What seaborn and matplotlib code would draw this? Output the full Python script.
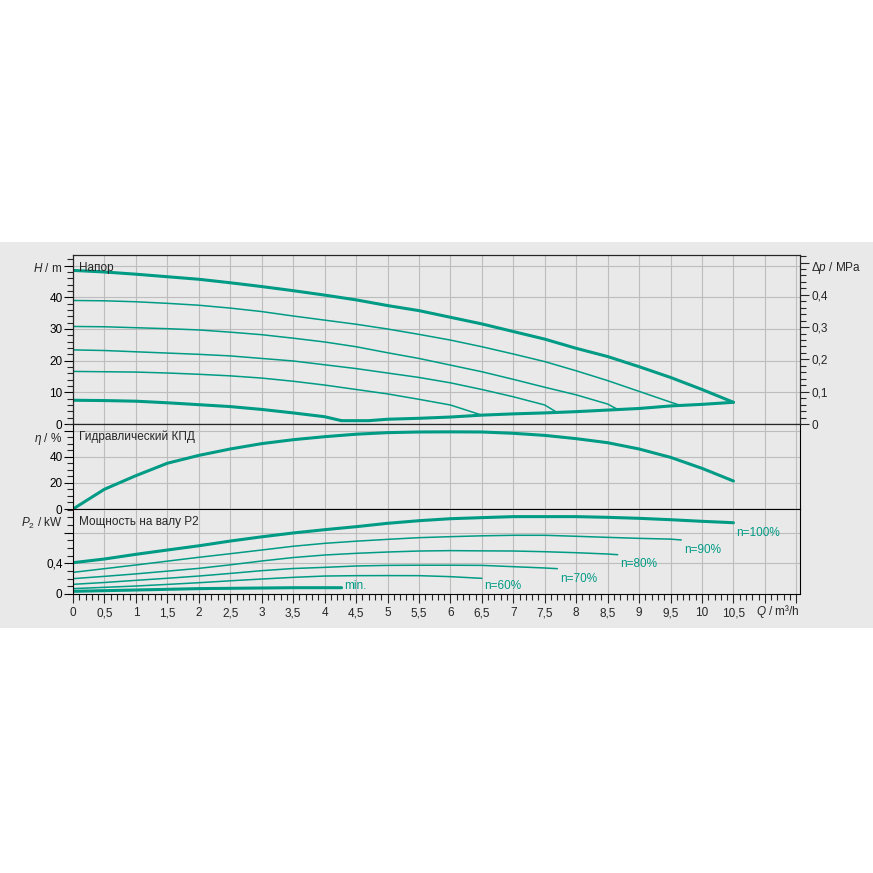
import matplotlib
matplotlib.use('Agg')
import matplotlib.pyplot as plt
from matplotlib.patches import Rectangle
from matplotlib.ticker import MultipleLocator, FixedLocator, FuncFormatter
import seaborn as sns

# ---- data (Q in m3/h) ----
q_100 = [0, 0.5, 1, 1.5, 2, 2.5, 3, 3.5, 4, 4.5, 5, 5.5, 6, 6.5, 7, 7.5, 8, 8.5, 9, 9.5, 10, 10.5]
h_100 = [48.5, 48.0, 47.3, 46.5, 45.7, 44.6, 43.4, 42.1, 40.7, 39.2, 37.4, 35.8, 33.7, 31.6, 29.2, 26.8,
         23.9, 21.3, 18.1, 14.7, 10.9, 6.85]
p_100 = [0.408, 0.456, 0.517, 0.573, 0.628, 0.69, 0.745, 0.795, 0.838, 0.877, 0.921, 0.955, 0.981, 0.995,
         1.008, 1.008, 1.008, 0.999, 0.986, 0.968, 0.947, 0.929]
eta_100 = [0, 15.1, 25.5, 35.0, 41.0, 45.9, 50.0, 53.0, 55.3, 57.2, 58.4, 58.9, 59.0, 58.9, 57.9, 56.3,
           53.8, 50.7, 45.9, 39.5, 31.1, 21.4]

q_90 = [0, 0.5, 1, 1.5, 2, 2.5, 3, 3.5, 4, 4.5, 5, 5.5, 6, 6.5, 7, 7.5, 8, 8.5, 9, 9.5, 9.67]
h_90 = [39.0, 38.9, 38.6, 38.1, 37.5, 36.6, 35.5, 34.1, 32.8, 31.5, 30.0, 28.3, 26.5, 24.4, 22.1, 19.7,
        16.8, 13.7, 10.3, 6.9, 5.8]
p_90 = [0.282, 0.33, 0.378, 0.428, 0.478, 0.525, 0.573, 0.622, 0.660, 0.688, 0.712, 0.734, 0.747, 0.758,
        0.765, 0.765, 0.752, 0.738, 0.725, 0.715, 0.704]

q_80 = [0, 0.5, 1, 1.5, 2, 2.5, 3, 3.5, 4, 4.5, 5, 5.5, 6, 6.5, 7, 7.5, 8, 8.5, 8.66]
h_80 = [30.8, 30.7, 30.4, 30.1, 29.7, 29.0, 28.2, 27.1, 25.9, 24.4, 22.5, 20.7, 18.6, 16.5, 14.1, 11.6,
        9.2, 6.3, 4.6]
p_80 = [0.2, 0.23, 0.262, 0.298, 0.334, 0.38, 0.43, 0.475, 0.508, 0.530, 0.547, 0.560, 0.565, 0.562,
        0.560, 0.551, 0.538, 0.521, 0.512]

q_70 = [0, 0.5, 1, 1.5, 2, 2.5, 3, 3.5, 4, 4.5, 5, 5.5, 6, 6.5, 7, 7.5, 7.7]
h_70 = [23.4, 23.2, 22.8, 22.4, 22.0, 21.5, 20.7, 19.9, 18.7, 17.5, 16.1, 14.7, 13.0, 10.9, 8.6, 6.0, 3.6]
p_70 = [0.126, 0.15, 0.178, 0.205, 0.234, 0.268, 0.304, 0.332, 0.347, 0.365, 0.373, 0.375, 0.375, 0.373,
        0.356, 0.339, 0.330]

q_60 = [0, 0.5, 1, 1.5, 2, 2.5, 3, 3.5, 4, 4.5, 5, 5.5, 6, 6.5]
h_60 = [16.6, 16.5, 16.4, 16.1, 15.7, 15.2, 14.5, 13.5, 12.3, 10.9, 9.5, 7.8, 6.0, 2.8]
p_60 = [0.07, 0.087, 0.104, 0.125, 0.147, 0.172, 0.195, 0.217, 0.234, 0.239, 0.240, 0.239, 0.226, 0.204]

q_min = [0, 0.5, 1, 1.5, 2, 2.5, 3, 3.5, 4, 4.27]
h_min = [7.5, 7.4, 7.2, 6.7, 6.1, 5.5, 4.6, 3.5, 2.3, 1.05]
q_min_p = [0, 1, 2, 3, 3.5, 4.27]
p_min = [0.035, 0.052, 0.07, 0.078, 0.082, 0.082]

# limit line connecting the ends of the speed curves
q_end = [4.27, 4.7, 5, 5.5, 6, 6.5, 7, 7.5, 8, 8.5, 9, 9.5, 10, 10.5]
h_end = [1.05, 1.05, 1.5, 1.8, 2.2, 2.8, 3.2, 3.5, 3.9, 4.4, 4.9, 5.7, 6.2, 6.85]

speed_labels = ['n=100%', 'n=90%', 'n=80%', 'n=70%', 'n=60%', 'min.']

x_ticks = [0, 0.5, 1, 1.5, 2, 2.5, 3, 3.5, 4, 4.5, 5, 5.5, 6, 6.5, 7, 7.5, 8, 8.5, 9, 9.5, 10, 10.5, 11, 11.5]
x_tick_labels = ['0', '0,5', '1', '1,5', '2', '2,5', '3', '3,5', '4', '4,5', '5', '5,5', '6', '6,5',
                 '7', '7,5', '8', '8,5', '9', '9,5', '10', '10,5', '', '']

# ---- style ----
sns.set_style('white')
plt.rcParams['font.family'] = ['Liberation Sans', 'DejaVu Sans']
plt.rcParams['mathtext.fontset'] = 'custom'
plt.rcParams['mathtext.it'] = 'Liberation Sans:italic'
plt.rcParams['mathtext.rm'] = 'Liberation Sans'

TEAL = '#009b84'
BG = '#e9e9e9'
GRID = '#bdbdbd'
FS = 8.5
THICK = 2.2
THIN = 1.1

W = 873.0
fig = plt.figure(figsize=(8.73, 8.73), dpi=100)
fig.patch.set_facecolor('white')
band = Rectangle((0, 1 - 628 / W), 1, (628 - 242) / W, transform=fig.transFigure,
                 facecolor=BG, edgecolor='none', zorder=-5)
fig.add_artist(band)

left, width = 73 / W, 727 / W
axH = fig.add_axes([left, 1 - 424 / W, width, 169 / W])
axE = fig.add_axes([left, 1 - 509 / W, width, 85 / W])
axP = fig.add_axes([left, 1 - 594 / W, width, 85 / W])

XMAX = 727 / 62.9
comma = FuncFormatter(lambda v, p: ('%g' % round(v, 3)).replace('.', ','))

for ax in (axH, axE, axP):
    ax.set_facecolor(BG)
    ax.set_xlim(0, XMAX)
    ax.xaxis.set_major_locator(FixedLocator(x_ticks))
    ax.xaxis.set_minor_locator(MultipleLocator(0.1))
    ax.grid(which='major', color=GRID, lw=0.8)
    ax.set_axisbelow(True)
    for s in ax.spines.values():
        s.set_color('black')
        s.set_linewidth(0.8)
        s.set_visible(True)
    ax.tick_params(axis='y', which='major', direction='out', length=6.5, width=0.8, pad=1,
                   labelsize=FS, left=True, colors='black')
    ax.tick_params(axis='y', which='minor', direction='out', length=4.5, width=0.8, left=True)

for ax in (axH, axE):
    ax.tick_params(axis='x', which='both', bottom=False, labelbottom=False)

axP.tick_params(axis='x', which='major', direction='out', length=6.5, width=0.8, pad=3,
                labelsize=FS, bottom=True)
axP.tick_params(axis='x', which='minor', direction='out', length=4.3, width=0.8, bottom=True)
axP.set_xticklabels(x_tick_labels)

# ---- head panel ----
HMAX = 169 / 3.167
axH.set_ylim(0, HMAX)
axH.yaxis.set_major_locator(MultipleLocator(10))
axH.yaxis.set_minor_locator(MultipleLocator(2))
axH.yaxis.set_major_formatter(FuncFormatter(lambda v, p: '' if v >= 50 else '%d' % v))

head_curves = [(q_100, h_100, THICK), (q_90, h_90, THIN), (q_80, h_80, THIN),
               (q_70, h_70, THIN), (q_60, h_60, THIN), (q_min, h_min, THICK), (q_end, h_end, THICK)]
for q, h, lw in head_curves:
    sns.lineplot(x=q, y=h, ax=axH, color=TEAL, lw=lw, sort=False, estimator=None)

axR = axH.twinx()
axR.set_ylim(0, HMAX / 101.97)
axR.yaxis.set_major_locator(MultipleLocator(0.1))
axR.yaxis.set_minor_locator(MultipleLocator(0.02))
axR.yaxis.set_major_formatter(FuncFormatter(lambda v, p: '' if v > 0.45 else comma(v, p)))
axR.tick_params(axis='y', which='major', direction='out', length=6.5, width=0.8, pad=2, labelsize=FS)
axR.tick_params(axis='y', which='minor', direction='out', length=4.5, width=0.8)
for s in axR.spines.values():
    s.set_linewidth(0.8)

# ---- efficiency panel ----
axE.set_ylim(0, 85 / 1.3075)
axE.yaxis.set_major_locator(MultipleLocator(20))
axE.yaxis.set_minor_locator(MultipleLocator(5))
axE.yaxis.set_major_formatter(FuncFormatter(lambda v, p: '' if v >= 60 else '%d' % v))
sns.lineplot(x=q_100, y=eta_100, ax=axE, color=TEAL, lw=THICK, sort=False, estimator=None)

# ---- power panel ----
axP.set_ylim(0, 85 / 76.75)
axP.yaxis.set_major_locator(MultipleLocator(0.4))
axP.yaxis.set_minor_locator(MultipleLocator(0.1))
axP.yaxis.set_major_formatter(FuncFormatter(lambda v, p: '' if v > 0.5 else comma(v, p)))
power_curves = [(q_100, p_100, THICK), (q_90, p_90, THIN), (q_80, p_80, THIN),
                (q_70, p_70, THIN), (q_60, p_60, THIN), (q_min_p, p_min, THICK)]
label_dy = [-0.14, -0.13, -0.125, -0.14, -0.10, 0.018]
for (q, p, lw), lab, dy in zip(power_curves, speed_labels, label_dy):
    sns.lineplot(x=q, y=p, ax=axP, color=TEAL, lw=lw, sort=False, estimator=None)
    axP.text(q[-1] + 0.04, p[-1] + dy, lab, color=TEAL, fontsize=FS, ha='left', va='center')

for ax in (axH, axE, axP):
    ax.set_xlabel('')
    ax.set_ylabel('')

# ---- axis titles and panel captions ----
yoffH = 1 - 13 / 169
yoff = 1 - 14.5 / 85
dx = 11 / 727
axH.text(-dx, yoffH, '$H$ / m', transform=axH.transAxes, ha='right', va='center', fontsize=FS)
axH.text(1 + dx, yoffH, r'$\Delta p$ / MPa', transform=axH.transAxes, ha='left', va='center', fontsize=FS)
axE.text(-dx, yoff, r'$\eta$ / %', transform=axE.transAxes, ha='right', va='center', fontsize=FS)
axP.text(-dx, yoff, '$P_2$ / kW', transform=axP.transAxes, ha='right', va='center', fontsize=FS)
axP.text(1.0, -18 / 85, '$Q$ / m³/h', transform=axP.transAxes, ha='right', va='center', fontsize=FS)

cx = 6 / 727
axH.text(cx, yoffH, 'Напор', transform=axH.transAxes, ha='left', va='center', fontsize=FS)
axE.text(cx, 1 - 13 / 85, 'Гидравлический КПД', transform=axE.transAxes, ha='left', va='center', fontsize=FS)
axP.text(cx, 1 - 13 / 85, 'Мощность на валу P2', transform=axP.transAxes, ha='left', va='center', fontsize=FS)

fig.savefig('out.png', dpi=100, facecolor=fig.get_facecolor())
